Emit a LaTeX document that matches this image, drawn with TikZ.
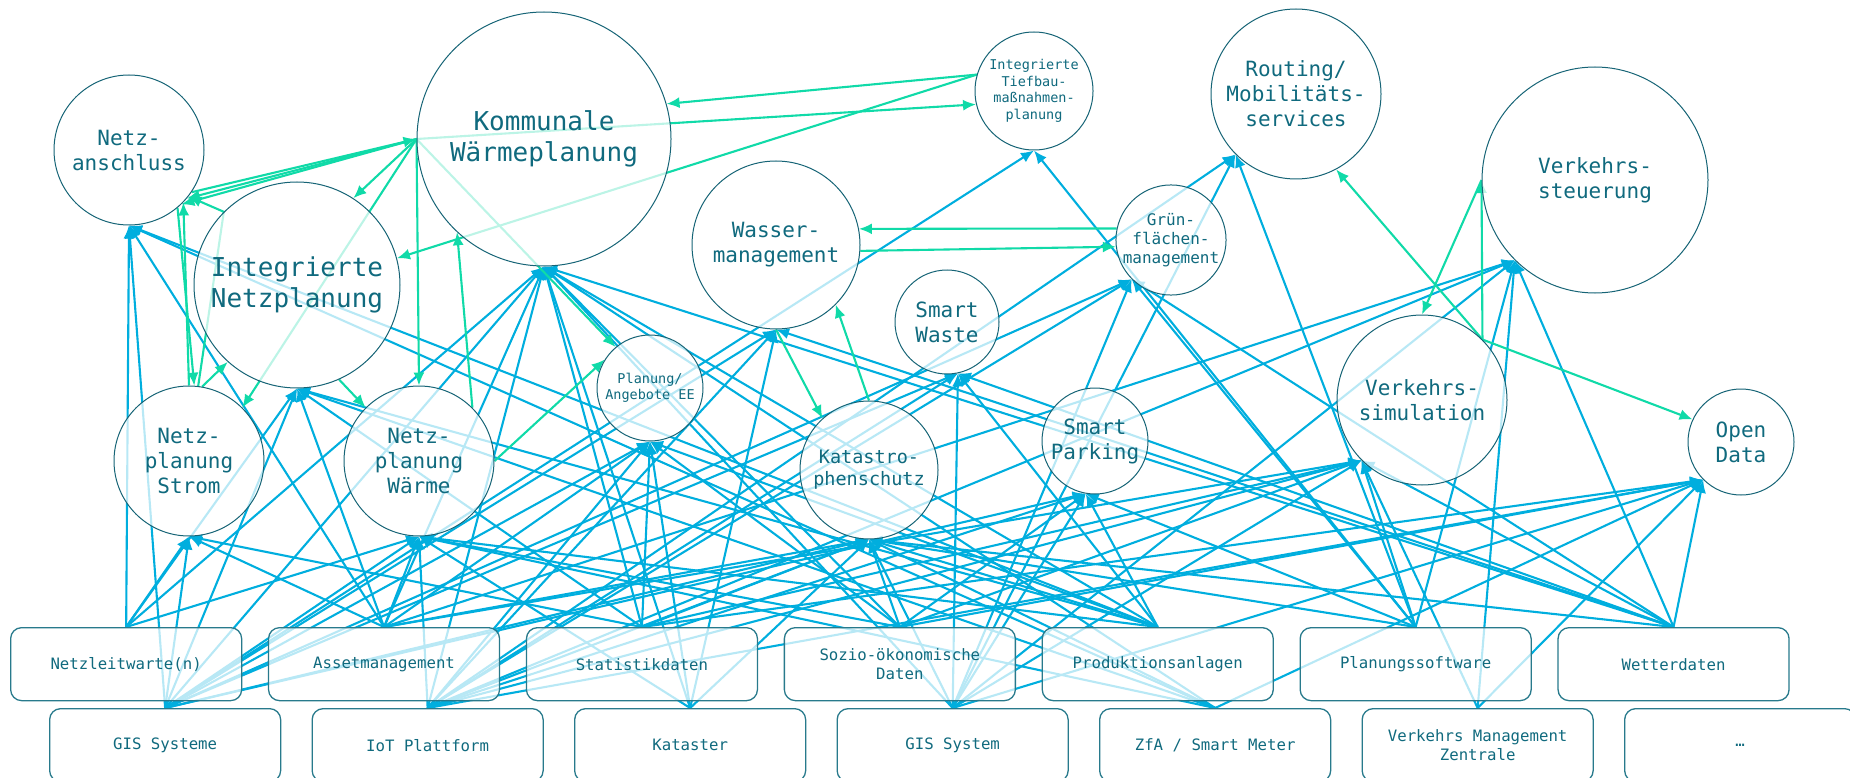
\documentclass[tikz,border=0pt]{standalone}
\usepackage{fontspec}
\setmainfont{DejaVu Sans Mono}
\usetikzlibrary{positioning,arrows.meta,backgrounds}
\tikzset{>={Latex[length=13pt,width=11pt]}}
\definecolor{ringcol}{RGB}{22,100,118}
\definecolor{boxcol}{RGB}{40,122,140}
\definecolor{txtcol}{RGB}{16,106,126}
\definecolor{flowblue}{RGB}{0,174,222}
\definecolor{linkgreen}{RGB}{16,218,168}

\begin{document}
\begin{tikzpicture}[x=1pt,y=-1pt,
    app/.style={circle,draw=ringcol,line width=1pt,fill=white,fill opacity=0.72,text opacity=1,
      text=txtcol,align=center,inner sep=0pt},
    bigtext/.style={font=\fontsize{26}{31}\selectfont},
    midtext/.style={font=\fontsize{21}{25}\selectfont},
    smalltext/.style={font=\fontsize{16}{19}\selectfont},
    tinytext/.style={font=\fontsize{13.5}{16.5}\selectfont},
    src/.style={rectangle,rounded corners=11pt,draw=boxcol,line width=1.3pt,fill=white,fill opacity=0.72,
      text opacity=1,text=txtcol,align=center,minimum width=231pt,minimum height=73pt,inner sep=2pt,
      font=\fontsize{15.7}{19}\selectfont},
    flow/.style={->,draw=flowblue,line width=2.1pt},
    link/.style={->,draw=linkgreen,line width=2.1pt}]
  \useasboundingbox (0,0) rectangle (1850,778);

  % applications
  \node[app,midtext,minimum size=150pt] (na) at (129,150) {Netz-\\anschluss};
  \node[app,bigtext,minimum size=254pt] (kwp) at (544,139) {Kommunale\\Wärmeplanung};
  \node[app,bigtext,minimum size=206pt] (inp) at (297,285) {Integrierte\\Netzplanung};
  \node[app,midtext,minimum size=150pt] (nps) at (189,461) {Netz-\\planung\\Strom};
  \node[app,midtext,minimum size=150pt] (npw) at (419,461) {Netz-\\planung\\Wärme};
  \node[app,tinytext,minimum size=106pt] (paee) at (650,388) {Planung/\\Angebote EE};
  \node[app,tinytext,minimum size=118pt] (tief) at (1034,91) {Integrierte\\Tiefbau-\\maßnahmen-\\planung};
  \node[app,midtext,minimum size=168pt] (wasser) at (776,245) {Wasser-\\management};
  \node[app,midtext,minimum size=104pt] (waste) at (947,322) {Smart\\Waste};
  \node[app,smalltext,minimum size=106pt] (gruen) at (1171,240) {Grün-\\flächen-\\management};
  \node[app,midtext,minimum size=170pt] (routing) at (1296,94) {Routing/\\Mobilitäts-\\services};
  \node[app,midtext,minimum size=226pt] (vs) at (1595,180) {Verkehrs-\\steuerung};
  \node[app,midtext,minimum size=170pt] (vsim) at (1422,400) {Verkehrs-\\simulation};
  \node[app,font=\fontsize{18.5}{22}\selectfont,minimum size=138pt] (kata) at (869,470) {Katastro-\\phenschutz};
  \node[app,midtext,minimum size=106pt] (parking) at (1095,441) {Smart\\Parking};
  \node[app,midtext,minimum size=106pt] (od) at (1741,442) {Open\\Data};

  % data sources
  \node[src,anchor=north west] (nlw) at (10,627) {Netzleitwarte(n)};
  \node[src,right=25.6pt of nlw] (asset) {Assetmanagement};
  \node[src,right=25.6pt of asset] (stat) {Statistikdaten};
  \node[src,right=25.6pt of stat] (sozio) {Sozio-ökonomische\\Daten};
  \node[src,right=25.6pt of sozio] (prod) {Produktionsanlagen};
  \node[src,right=25.6pt of prod] (plan) {Planungssoftware};
  \node[src,right=25.6pt of plan] (wetter) {Wetterdaten};
  \node[src,anchor=north west] (gis) at (49,708) {GIS Systeme};
  \node[src,right=30.2pt of gis] (iot) {IoT Plattform};
  \node[src,right=30.2pt of iot] (kat) {Kataster};
  \node[src,right=30.2pt of kat] (gis2) {GIS System};
  \node[src,right=30.2pt of gis2] (zfa) {ZfA / Smart Meter};
  \node[src,right=30.2pt of zfa] (vmz) {Verkehrs Management\\Zentrale};
  \node[src,right=30.2pt of vmz] (etc) {…};

  % where the data arrows arrive
  \foreach \n/\a in {na/south,kwp/south,inp/south,nps/south,npw/south,paee/south,tief/south,
      wasser/south,waste/-78,gruen/225,routing/225,vs/225,vsim/225,kata/south,parking/-100,od/225}
    \coordinate (\n-in) at (\n.\a);

  \begin{pgfonlayer}{background}
    \foreach \s/\ts in {nlw/{na,nps,npw,inp,kwp},
        gis/{na,nps,npw,inp,kwp,paee,wasser,kata,waste,gruen,tief,parking},
        asset/{na,nps,inp,npw,kwp,paee,kata,vs,vsim},
        iot/{npw,kwp,paee,wasser,kata,waste,gruen,routing,vs,vsim,parking,od},
        stat/{nps,inp,kwp,paee,kata,vsim,od},
        sozio/{npw,kwp,paee,kata,parking,vsim,od},
        kat/{npw,kwp,paee,kata,wasser},
        gis2/{kwp,kata,waste,gruen,parking,vs,vsim,od,routing},
        prod/{na,inp,npw,kwp,paee,kata,waste,parking},
        zfa/{na,inp,npw,kwp,kata,od},
        plan/{gruen,tief,routing,vs,vsim,kata,parking},
        vmz/{vs,vsim,od},
        wetter/{kwp,wasser,kata,waste,gruen,vs,vsim,od}}
      \foreach \t in \ts
        \draw[flow] (\s.north) -- (\t-in);

    % links between applications
    \draw[link] (tief.164) -- (kwp.16);
    \draw[link] (kwp.west) -- (tief.193);
    \draw[link] (tief.164) -- (inp.15);
    \draw[link] (kwp.west) -- (na.-40);
    \draw[link] (kwp.west) -- (na.-46);
    \draw[link] (na.-34) -- (kwp.west);
    \draw[link] (kwp.west) -- (inp.57);
    \draw[link] (kwp.west) -- (nps.45);
    \draw[link] (kwp.west) -- (npw.north);
    \draw[link] (kwp.west) -- (paee.130);
    \draw[link] (npw.45) -- (kwp.227);
    \draw[link] (na.-50) -- (nps.86);
    \draw[link] (nps.90) -- (na.-44);
    \draw[link] (nps.80) -- (inp.228);
    \draw[link] (nps.83) -- (inp.135) -- (na.-38);
    \draw[link] (inp.-66) -- (npw.135);
    \draw[link] (npw.east) -- (paee.148);
    \draw[link] (kata.north) -- (wasser.-45);
    \draw[link] (wasser.south) -- (kata.132);
    \draw[link] (gruen.168) -- (wasser.11);
    \draw[link] (wasser.-4) -- (gruen.187);
    \draw[link] (vsim.45) -- (vs.west);
    \draw[link] (vsim.45) -- (routing.-62);
    \draw[link] (vsim.45) -- (od.155);
    \draw[link] (vs.west) -- (vsim.north);
  \end{pgfonlayer}
\end{tikzpicture}
\end{document}
